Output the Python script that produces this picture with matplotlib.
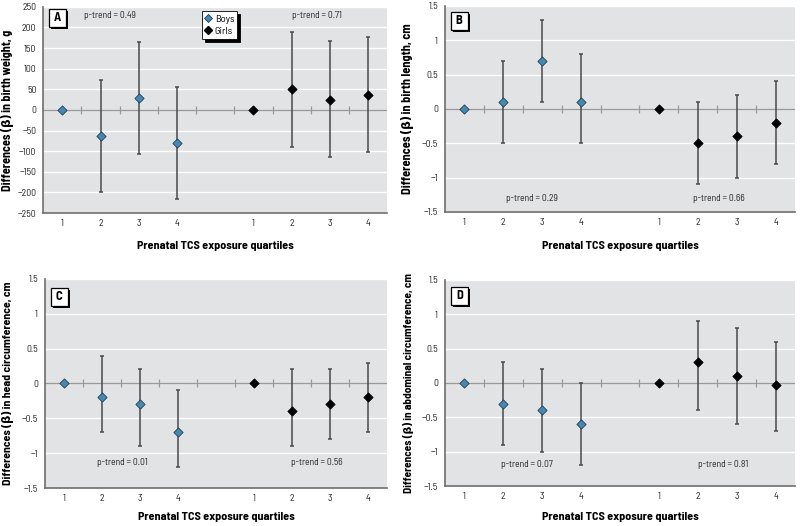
import matplotlib
matplotlib.use("Agg")
import matplotlib.pyplot as plt
import matplotlib.patheffects as pe
from matplotlib.patches import Rectangle
from matplotlib.lines import Line2D
import numpy as np

plt.rcParams['font.family'] = ['Barlow Semi Condensed', 'DejaVu Sans']

quartiles = ["1", "2", "3", "4"]
boys_pos = [1, 2, 3, 4]
girls_pos = [6, 7, 8, 9]

# Panel A: birth weight (g)
a_boys = [0, -62, 28, -81]
a_boys_lo = [0, -198, -107, -217]
a_boys_hi = [0, 73, 165, 56]
a_girls = [0, 50, 25, 36]
a_girls_lo = [0, -90, -115, -103]
a_girls_hi = [0, 190, 166, 176]

# Panel B: birth length (cm)
b_boys = [0, 0.1, 0.7, 0.1]
b_boys_lo = [0, -0.5, 0.1, -0.5]
b_boys_hi = [0, 0.7, 1.3, 0.8]
b_girls = [0, -0.5, -0.4, -0.2]
b_girls_lo = [0, -1.1, -1.0, -0.8]
b_girls_hi = [0, 0.1, 0.2, 0.4]

# Panel C: head circumference (cm)
c_boys = [0, -0.2, -0.3, -0.7]
c_boys_lo = [0, -0.7, -0.9, -1.2]
c_boys_hi = [0, 0.4, 0.2, -0.1]
c_girls = [0, -0.4, -0.3, -0.2]
c_girls_lo = [0, -0.9, -0.8, -0.7]
c_girls_hi = [0, 0.2, 0.2, 0.3]

# Panel D: abdominal circumference (cm)
d_boys = [0, -0.3, -0.4, -0.6]
d_boys_lo = [0, -0.9, -1.0, -1.2]
d_boys_hi = [0, 0.3, 0.2, 0.0]
d_girls = [0, 0.3, 0.1, -0.03]
d_girls_lo = [0, -0.4, -0.6, -0.7]
d_girls_hi = [0, 0.9, 0.8, 0.6]

panels = [
    dict(letter="A", ylabel="Differences (β) in birth weight, g", ylfs=8.8,
         ylim=(-250, 250), yticks=list(range(-250, 251, 50)),
         boys=(a_boys, a_boys_lo, a_boys_hi), girls=(a_girls, a_girls_lo, a_girls_hi),
         ptxt=[("p-trend = 0.49", 2.25, 228), ("p-trend = 0.71", 7.67, 228)],
         rect=[0.054, 0.595, 0.430, 0.392], legend=True, ylx=0.010, xly=0.542, boxtop=2),
    dict(letter="B", ylabel="Differences (β) in birth length, cm", ylfs=8.9,
         ylim=(-1.5, 1.5), yticks=[-1.5, -1, -0.5, 0, 0.5, 1, 1.5],
         boys=(b_boys, b_boys_lo, b_boys_hi), girls=(b_girls, b_girls_lo, b_girls_hi),
         ptxt=[("p-trend = 0.29", 2.75, -1.31), ("p-trend = 0.66", 7.53, -1.31)],
         rect=[0.556, 0.597, 0.438, 0.392], legend=False, ylx=0.510, xly=0.542, boxtop=6),
    dict(letter="C", ylabel="Differences (β) in head circumference, cm", ylfs=8.5,
         ylim=(-1.5, 1.5), yticks=[-1.5, -1, -0.5, 0, 0.5, 1, 1.5],
         boys=(c_boys, c_boys_lo, c_boys_hi), girls=(c_girls, c_girls_lo, c_girls_hi),
         ptxt=[("p-trend = 0.01", 2.53, -1.13), ("p-trend = 0.56", 7.66, -1.13)],
         rect=[0.056, 0.072, 0.428, 0.398], legend=False, ylx=0.010, xly=0.026, boxtop=9),
    dict(letter="D", ylabel="Differences (β) in abdominal circumference, cm", ylfs=8.1,
         ylim=(-1.5, 1.5), yticks=[-1.5, -1, -0.5, 0, 0.5, 1, 1.5],
         boys=(d_boys, d_boys_lo, d_boys_hi), girls=(d_girls, d_girls_lo, d_girls_hi),
         ptxt=[("p-trend = 0.07", 2.6, -1.19), ("p-trend = 0.81", 7.66, -1.19)],
         rect=[0.556, 0.076, 0.438, 0.392], legend=False, ylx=0.510, xly=0.026, boxtop=7),
]

BG = "#e2e3e5"
BOY_C = "#4788b0"
ERR_C = "#4a4a4a"
W, H = 800, 526

fig = plt.figure(figsize=(8, 5.26), dpi=100)

def fmt(v):
    if abs(v - round(v)) < 1e-9:
        s = str(int(round(v)))
    else:
        s = ("%g" % v)
    return s.replace("-", "\u2212")

for p in panels:
    ax = fig.add_axes(p["rect"])
    ax.set_facecolor(BG)
    ax.set_xlim(0.5, 9.5)
    ax.set_ylim(*p["ylim"])
    ax.set_yticks(p["yticks"])
    ax.set_yticklabels([fmt(v) for v in p["yticks"]], fontsize=7, color="#222")
    ax.set_xticks(boys_pos + girls_pos)
    ax.set_xticklabels(quartiles + quartiles, fontsize=7, color="#222")
    ax.tick_params(axis="x", length=0, pad=4.5)
    ax.tick_params(axis="y", length=0, pad=5)
    for y in p["yticks"]:
        if y != 0:
            ax.axhline(y, color="white", lw=1.0, zorder=0.5)
    ax.axhline(0, color="#9a9a9a", lw=0.9, zorder=1)
    ax.scatter(np.arange(1.5, 9.0, 1.0), np.zeros(8), marker="|", s=30,
               color="#9a9a9a", linewidths=0.9, zorder=1)
    for s in ["top", "right"]:
        ax.spines[s].set_visible(False)
    for s in ["left", "bottom"]:
        ax.spines[s].set_color("#6e6e6e")
        ax.spines[s].set_linewidth(1.2)

    for pos, (vals, lo, hi), col, ec in [(boys_pos, p["boys"], BOY_C, "#1f3f55"),
                                         (girls_pos, p["girls"], "black", "black")]:
        vals = np.array(vals); lo = np.array(lo); hi = np.array(hi)
        yerr = np.vstack([vals - lo, hi - vals])
        ax.errorbar(pos[1:], vals[1:], yerr=yerr[:, 1:], fmt="none", ecolor=ERR_C,
                    elinewidth=1.1, capsize=1.6, capthick=1.1, zorder=2)
        ax.scatter(pos, vals, marker="D", s=22, color=col, edgecolors=ec,
                   linewidths=0.6, zorder=3)

    for txt, x, y in p["ptxt"]:
        ax.text(x, y, txt, fontsize=6.8, ha="center", va="center", color="#222")

    # panel label box with shadow (fixed pixel size)
    aw, ah = p["rect"][2] * W, p["rect"][3] * H
    bw, bh = 17 / aw, 18 / ah
    bx = 6 / aw
    btop = 1 - p["boxtop"] / ah
    box = Rectangle((bx, btop - bh), bw, bh, transform=ax.transAxes, fc="white",
                    ec="black", lw=0.9, zorder=6)
    box.set_path_effects([pe.SimplePatchShadow(offset=(1.6, -1.6), shadow_rgbFace="black",
                                               alpha=1.0), pe.Normal()])
    ax.add_patch(box)
    ax.text(bx + bw / 2, btop - bh / 2, p["letter"], transform=ax.transAxes, fontsize=9,
            fontweight="bold", ha="center", va="center", color="black", zorder=7)

    ax.set_ylabel(p["ylabel"], fontsize=p["ylfs"], fontweight="bold", va="center")
    ax.yaxis.set_label_coords(p["ylx"], p["rect"][1] + p["rect"][3] / 2,
                              transform=fig.transFigure)
    ax.set_xlabel("Prenatal TCS exposure quartiles", fontsize=8.7, fontweight="bold")
    ax.xaxis.set_label_coords(p["rect"][0] + p["rect"][2] / 2, p["xly"],
                              transform=fig.transFigure)

    if p["legend"]:
        handles = [Line2D([], [], marker="D", ls="none", color=BOY_C, mec="#1f3f55",
                          mew=0.6, markersize=4, label="Boys"),
                   Line2D([], [], marker="D", ls="none", color="black",
                          markersize=4, label="Girls")]
        leg = ax.legend(handles=handles, loc="upper left", bbox_to_anchor=(0.462, 0.978),
                        fontsize=7.5, frameon=True, fancybox=False,
                        shadow={"color": "black", "alpha": 1.0},
                        handlelength=0.6, handletextpad=0.3, borderpad=0.3,
                        labelspacing=0.25, borderaxespad=0)
        leg.get_frame().set_edgecolor("black")
        leg.get_frame().set_linewidth(0.6)

fig.savefig("out.png", dpi=100)
